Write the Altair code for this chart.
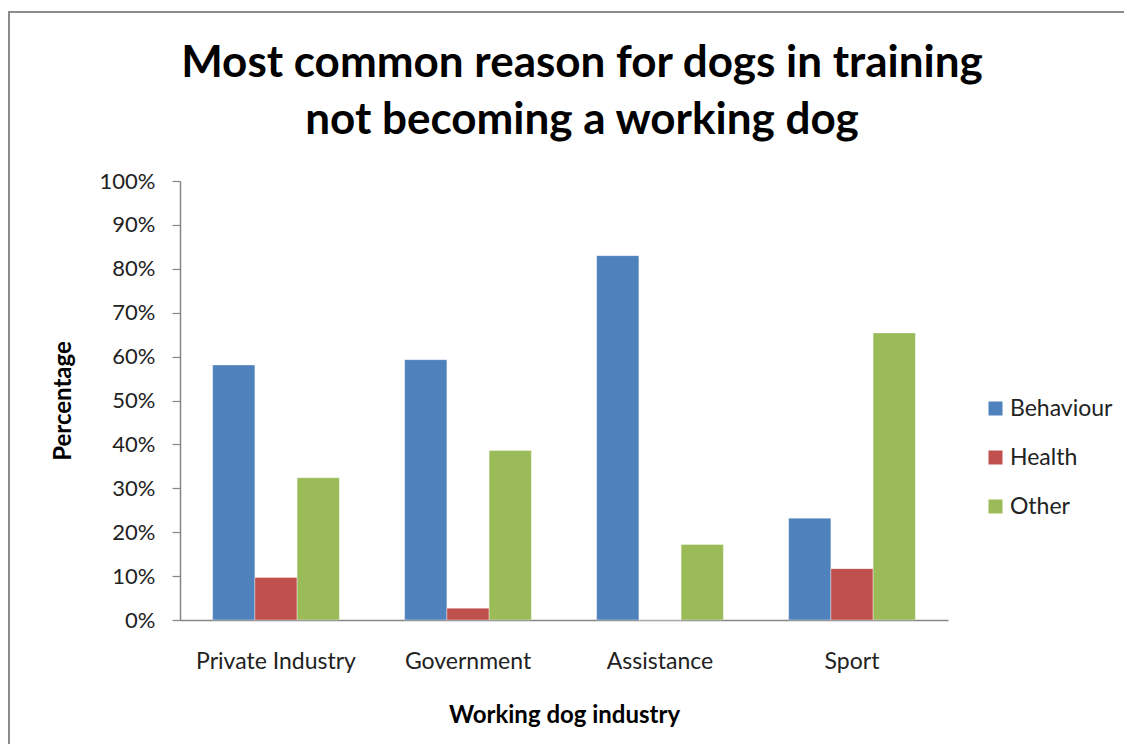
import altair as alt
import pandas as pd

industries = ["Private Industry", "Government", "Assistance", "Sport"]
reasons = ["Behaviour", "Health", "Other"]
behaviour = [0.581, 0.593, 0.830, 0.232]
health = [0.097, 0.027, 0.0, 0.117]
other = [0.324, 0.386, 0.172, 0.654]
colors = ["#4F81BD", "#C0504D", "#9BBB59"]

rows = []
for i, ind in enumerate(industries):
    for r, vals in zip(reasons, [behaviour, health, other]):
        rows.append({"industry": ind, "reason": r, "value": vals[i]})
df = pd.DataFrame(rows)

FONT = "Lato"
AXIS_GRAY = "#868686"
FRAME_GRAY = "#8c8c8c"

bars = alt.Chart(df).mark_bar(stroke="white", strokeWidth=0.6, strokeOpacity=0.6).encode(
    x=alt.X(
        "industry:N",
        sort=industries,
        scale=alt.Scale(paddingInner=0.34, paddingOuter=0.17),
        axis=alt.Axis(
            title="Working dog industry",
            labelAngle=0,
            ticks=False,
            tickSize=0,
            labelPadding=30,
            labelFontSize=23,
            labelFont=FONT,
            labelColor="#222222",
            domainColor=AXIS_GRAY,
            domainWidth=1.5,
            titleFont=FONT,
            titleFontSize=24,
            titleFontWeight="bold",
            titleColor="#000000",
            titlePadding=30,
        ),
    ),
    xOffset=alt.XOffset("reason:N", sort=reasons, scale=alt.Scale(paddingInner=0, paddingOuter=0)),
    y=alt.Y(
        "value:Q",
        scale=alt.Scale(domain=[0, 1], nice=False),
        axis=alt.Axis(
            title="Percentage",
            values=[i / 10 for i in range(11)],
            format=".0%",
            grid=False,
            ticks=True,
            tickSize=8,
            tickColor=AXIS_GRAY,
            tickWidth=1.2,
            domainColor=AXIS_GRAY,
            domainWidth=1.5,
            labelPadding=17,
            labelFontSize=22,
            labelFont=FONT,
            labelColor="#222222",
            titleFont=FONT,
            titleFontSize=24,
            titleFontWeight="bold",
            titleColor="#000000",
            titlePadding=24,
        ),
    ),
    color=alt.Color(
        "reason:N",
        sort=reasons,
        scale=alt.Scale(domain=reasons, range=colors),
        legend=alt.Legend(
            title=None,
            orient="none",
            legendX=804,
            legendY=216,
            symbolType="square",
            symbolSize=196,
            symbolStrokeWidth=0,
            labelFont=FONT,
            labelFontSize=23,
            labelColor="#222222",
            labelOffset=3,
            rowPadding=25,
            padding=0,
        ),
    ),
)

one = pd.DataFrame({"k": [0]})
frame_left = alt.Chart(one).mark_rule(stroke=FRAME_GRAY, strokeWidth=2).encode(
    x=alt.value(-171), y=alt.value(-170), y2=alt.value(3000)
)
frame_top = alt.Chart(one).mark_rule(stroke=FRAME_GRAY, strokeWidth=2).encode(
    x=alt.value(-172), x2=alt.value(3000), y=alt.value(-169)
)

chart = alt.layer(frame_left, frame_top, bars).properties(
    width=768,
    height=439,
    background="white",
    padding={"left": 172, "top": 173, "right": 176, "bottom": 124},
    autosize=alt.AutoSizeParams(type="none"),
    view=alt.ViewBackground(strokeWidth=0, stroke="transparent"),
    title=alt.TitleParams(
        text=["Most common reason for dogs in training", "not becoming a working dog"],
        font=FONT,
        fontSize=44,
        fontWeight="bold",
        color="#000000",
        anchor="middle",
        frame="group",
        lineHeight=57,
        dx=18,
        dy=153,
        offset=20,
    ),
).configure_view(strokeWidth=0, stroke="transparent")

chart.save("out.html", embed_options={"renderer": "svg", "actions": False})
